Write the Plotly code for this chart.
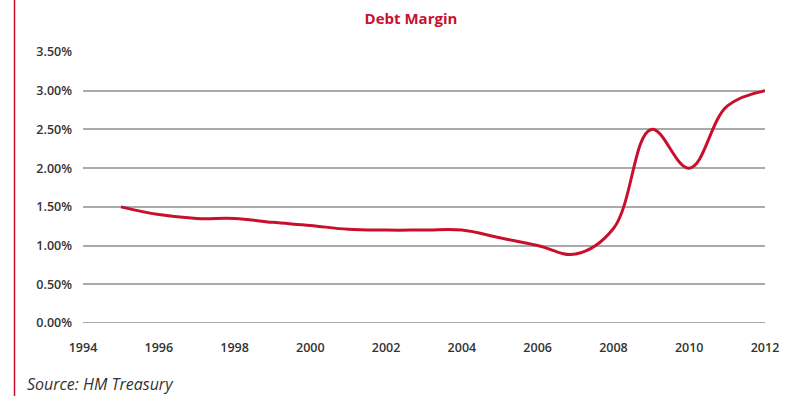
import plotly.graph_objects as go

years = [1995, 1996, 1997, 1998, 1999, 2000, 2001, 2002, 2003, 2004, 2005, 2006, 2007, 2008, 2009, 2010, 2011, 2012]
margin = [1.50, 1.40, 1.35, 1.35, 1.30, 1.26, 1.21, 1.20, 1.20, 1.20, 1.10, 1.00, 0.89, 1.22, 2.50, 2.00, 2.80, 3.00]
y_ticks = [0, 0.5, 1.0, 1.5, 2.0, 2.5, 3.0, 3.5]
y_labels = ["0.00%", "0.50%", "1.00%", "1.50%", "2.00%", "2.50%", "3.00%", "3.50%"]
x_ticks = [1994, 1996, 1998, 2000, 2002, 2004, 2006, 2008, 2010, 2012]

RED = "#c8102e"
FONT = "Open Sans, sans-serif"

fig = go.Figure()
fig.add_trace(go.Scatter(
    x=years, y=margin, mode="lines",
    line=dict(color=RED, width=3, shape="spline", smoothing=1.1),
    hoverinfo="skip", showlegend=False,
))

fig.update_layout(
    width=791, height=396,
    margin=dict(l=83, r=21, t=52, b=73),
    paper_bgcolor="white", plot_bgcolor="white",
    title=dict(text="<b>Debt Margin</b>", x=411 / 791, xref="container", y=1 - 19 / 396,
               yref="container", xanchor="center", yanchor="middle",
               font=dict(family=FONT, size=15, color=RED)),
    xaxis=dict(range=[1994, 2012], tickvals=x_ticks, showgrid=False, zeroline=False,
               showline=False, ticks="", ticklabelstandoff=15,
               tickfont=dict(family=FONT, size=12.5, color="#333333", weight=600)),
    yaxis=dict(range=[0, 3.5], tickvals=y_ticks, ticktext=y_labels, showgrid=True,
               gridcolor="#aaaaaa", gridwidth=2, zeroline=False, showline=False,
               ticks="", ticklabelstandoff=10,
               tickfont=dict(family=FONT, size=12.5, color="#333333", weight=600)),
    shapes=[dict(type="line", xref="paper", yref="paper",
                 x0=(14 - 83) / 687, x1=(14 - 83) / 687, y0=-0.3, y1=1.25,
                 line=dict(color=RED, width=1.5)),
            dict(type="line", xref="x", yref="y", x0=1994, x1=2012, y0=0, y1=0,
                 line=dict(color="#aaaaaa", width=2), layer="below")],
    annotations=[dict(text="<i>Source: HM Treasury</i>", xref="paper", yref="paper",
                      x=(25 - 83) / 687, y=(323 - 384) / 271, xanchor="left",
                      yanchor="middle", showarrow=False,
                      font=dict(family=FONT, size=16, color="#333333"))],
)

fig.write_html("out.html")
